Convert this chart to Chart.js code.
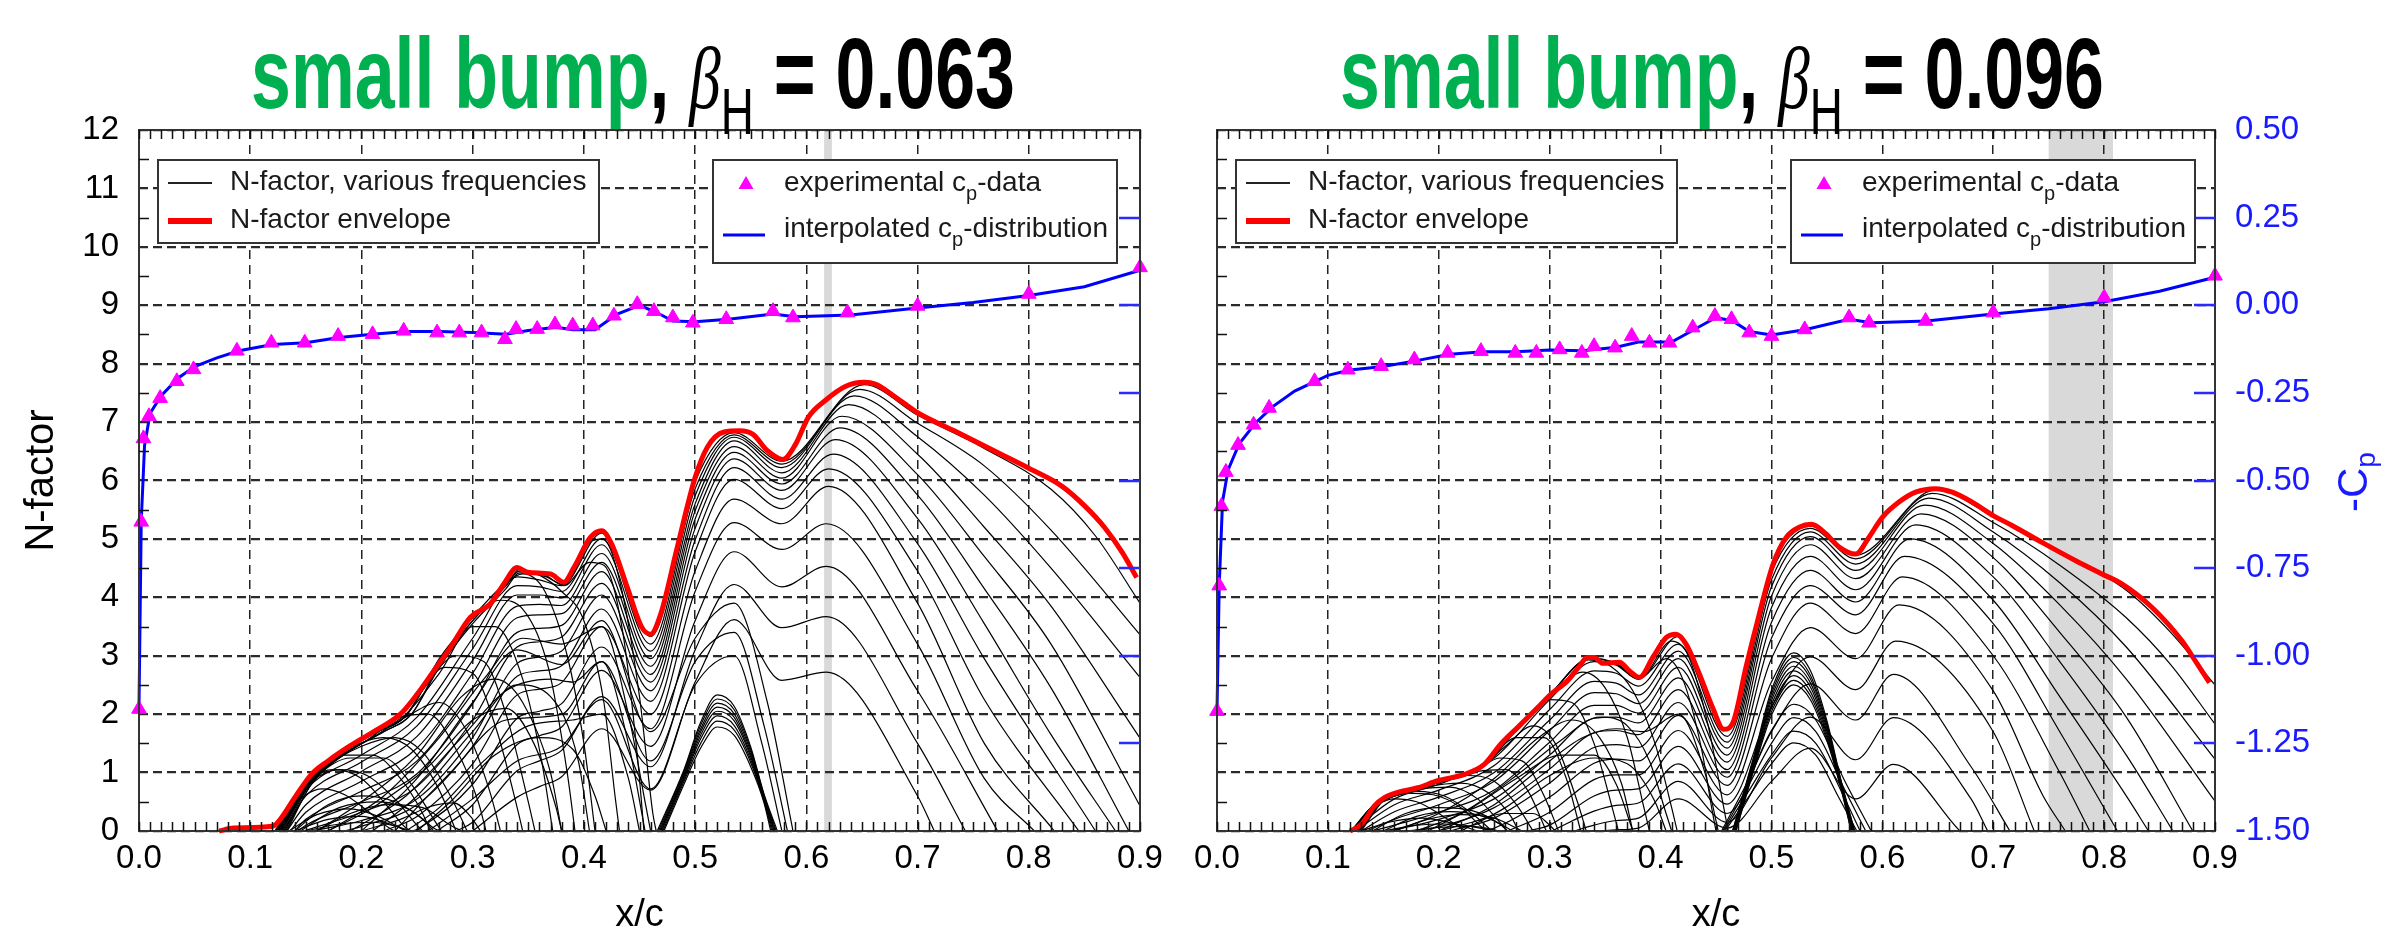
<!DOCTYPE html>
<html>
<head>
<meta charset="utf-8">
<script src="https://cdn.jsdelivr.net/npm/chart.js@4.4.1/dist/chart.umd.min.js"></script>
<style>
  html, body { margin: 0; padding: 0; background: #fff; }
  #wrap { position: relative; width: 2390px; height: 928px; overflow: hidden; }
  canvas { position: absolute; top: 0; }
</style>
</head>
<body>
<div id="wrap">
  <canvas id="left" width="1180" height="928" style="left:0"></canvas>
  <canvas id="right" width="1210" height="928" style="left:1180px"></canvas>
</div>
<script>
const FONT = '"Liberation Sans", Arial, Helvetica, sans-serif';

// axis ticks
const xTicks = [0, 0.1, 0.2, 0.3, 0.4, 0.5, 0.6, 0.7, 0.8, 0.9];
const nTicks = [0, 1, 2, 3, 4, 5, 6, 7, 8, 9, 10, 11, 12];
const cpTicks = [-1.5, -1.25, -1, -0.75, -0.5, -0.25, 0, 0.25, 0.5];

// texts
const titleWords = ['small bump', ', ', 'β', 'H', ' = '];
const betaValues = ['0.063', '0.096'];
const legendLabels = ['N-factor, various frequencies', 'N-factor envelope'];
const legendCp = [[['experimental c', 0], ['p', 1], ['-data', 0]], [['interpolated c', 0], ['p', 1], ['-distribution', 0]]];
const axisTitles = ['x/c', 'N-factor', '-C', 'p'];

// shaded bands (x/c)
const bandLeft = [0.616, 0.623];
const bandRight = [0.75, 0.808];

// ---------- left panel, beta_H = 0.063 ----------
const leftCpExp = [[0.0,-1.152],[0.002,-0.618],[0.004,-0.38],[0.009,-0.317],[0.019,-0.265],[0.034,-0.217],[0.049,-0.183],[0.088,-0.13],[0.119,-0.107],[0.149,-0.107],[0.179,-0.088],[0.21,-0.083],[0.238,-0.073],[0.268,-0.078],[0.288,-0.078],[0.308,-0.078],[0.329,-0.097],[0.339,-0.068],[0.358,-0.068],[0.374,-0.055],[0.39,-0.058],[0.408,-0.058],[0.427,-0.03],[0.448,0.003],[0.463,-0.017],[0.48,-0.035],[0.498,-0.05],[0.528,-0.04],[0.57,-0.017],[0.588,-0.035],[0.637,-0.021],[0.7,-0.002],[0.8,0.032],[0.9,0.108]];
const leftCpLine = [[0,-1.15],[0.002,-0.617],[0.005,-0.4],[0.01,-0.308],[0.02,-0.258],[0.035,-0.208],[0.05,-0.175],[0.07,-0.15],[0.09,-0.13],[0.12,-0.112],[0.15,-0.107],[0.18,-0.092],[0.21,-0.083],[0.24,-0.075],[0.27,-0.075],[0.3,-0.078],[0.33,-0.083],[0.35,-0.072],[0.375,-0.063],[0.39,-0.07],[0.41,-0.07],[0.43,-0.025],[0.45,0.0],[0.465,-0.02],[0.48,-0.045],[0.5,-0.047],[0.53,-0.04],[0.57,-0.025],[0.59,-0.033],[0.64,-0.028],[0.7,-0.008],[0.75,0.008],[0.8,0.028],[0.85,0.053],[0.9,0.1]];
const leftEnvelope = [[0.072,0],[0.085,0.05],[0.12,0.08],[0.127,0.2],[0.14,0.57],[0.155,0.97],[0.17,1.2],[0.19,1.46],[0.21,1.69],[0.235,2.0],[0.25,2.34],[0.265,2.74],[0.28,3.14],[0.298,3.66],[0.316,3.89],[0.328,4.23],[0.34,4.51],[0.349,4.43],[0.37,4.4],[0.382,4.26],[0.391,4.51],[0.406,5.03],[0.416,5.14],[0.425,4.91],[0.439,4.17],[0.452,3.49],[0.46,3.37],[0.469,3.71],[0.484,4.86],[0.5,6.05],[0.511,6.57],[0.526,6.83],[0.54,6.85],[0.552,6.79],[0.565,6.51],[0.579,6.36],[0.59,6.61],[0.602,7.09],[0.617,7.37],[0.635,7.61],[0.652,7.68],[0.662,7.65],[0.68,7.43],[0.7,7.16],[0.733,6.85],[0.775,6.45],[0.8,6.21],[0.83,5.9],[0.85,5.57],[0.868,5.2],[0.884,4.77],[0.897,4.34]];
const leftCurves = [
  [[0.128,0],[0.15,0.7],[0.2,1.3],[0.25,1.95],[0.3,3.3],[0.34,4.35],[0.36,4.3],[0.38,4.2],[0.416,5.1],[0.46,3.33],[0.5,5.98],[0.535,6.82],[0.578,6.33],[0.652,7.64],[0.7,7.12],[0.76,6.55],[0.82,5.85],[0.86,5.05],[0.9,3.9]],
  [[0.13,0],[0.15,0.6],[0.2,1.18],[0.25,1.8],[0.3,3.12],[0.34,4.2],[0.36,4.18],[0.38,4.1],[0.416,5.0],[0.46,3.2],[0.5,5.86],[0.535,6.78],[0.578,6.28],[0.648,7.56],[0.7,6.98],[0.76,6.25],[0.82,5.15],[0.9,3.36]],
  [[0.133,0],[0.15,0.45],[0.2,1.02],[0.25,1.62],[0.3,2.92],[0.34,4.04],[0.36,4.04],[0.38,3.99],[0.416,4.9],[0.46,3.08],[0.5,5.74],[0.535,6.74],[0.578,6.22],[0.643,7.45],[0.7,6.75],[0.76,5.75],[0.82,4.5],[0.9,2.63]],
  [[0.136,0],[0.15,0.32],[0.2,0.85],[0.25,1.42],[0.3,2.7],[0.34,3.85],[0.36,3.88],[0.38,3.86],[0.416,4.75],[0.46,2.95],[0.5,5.6],[0.535,6.68],[0.578,6.13],[0.638,7.3],[0.7,6.45],[0.76,5.2],[0.82,3.85],[0.9,1.59]],
  [[0.14,0],[0.15,0.2],[0.2,0.68],[0.25,1.2],[0.3,2.45],[0.34,3.65],[0.36,3.7],[0.38,3.72],[0.416,4.6],[0.46,2.82],[0.5,5.48],[0.535,6.58],[0.578,6.04],[0.632,7.1],[0.7,6.1],[0.76,4.7],[0.82,3.2],[0.9,0.43]],
  [[0.143,0],[0.15,0.1],[0.2,0.5],[0.25,0.98],[0.3,2.18],[0.34,3.4],[0.36,3.47],[0.38,3.52],[0.416,4.44],[0.46,2.68],[0.5,5.34],[0.535,6.48],[0.578,5.94],[0.63,6.9],[0.7,5.75],[0.76,4.15],[0.82,2.45],[0.89,0]],
  [[0.148,0],[0.2,0.32],[0.25,0.76],[0.3,1.9],[0.34,3.15],[0.36,3.24],[0.38,3.32],[0.416,4.24],[0.46,2.55],[0.5,5.18],[0.535,6.37],[0.578,5.83],[0.626,6.7],[0.7,5.35],[0.76,3.55],[0.82,1.65],[0.878,0]],
  [[0.155,0],[0.2,0.18],[0.25,0.55],[0.3,1.6],[0.34,2.87],[0.36,2.98],[0.38,3.08],[0.416,4.04],[0.46,2.4],[0.5,4.98],[0.535,6.22],[0.578,5.68],[0.624,6.45],[0.7,4.92],[0.76,2.95],[0.86,0]],
  [[0.185,0],[0.2,0.08],[0.25,0.45],[0.3,1.45],[0.34,2.65],[0.36,2.74],[0.38,2.83],[0.416,3.8],[0.46,2.22],[0.5,4.78],[0.535,6.02],[0.578,5.52],[0.62,6.2],[0.7,4.45],[0.76,2.25],[0.845,0]],
  [[0.22,0],[0.25,0.25],[0.3,1.15],[0.34,2.33],[0.36,2.43],[0.38,2.54],[0.416,3.5],[0.46,2.0],[0.5,4.45],[0.535,5.68],[0.578,5.26],[0.62,5.9],[0.7,3.9],[0.76,1.5],[0.823,0]],
  [[0.245,0],[0.25,0.03],[0.3,0.8],[0.34,1.93],[0.36,2.05],[0.38,2.18],[0.416,3.15],[0.46,1.75],[0.5,4.1],[0.535,5.28],[0.578,4.82],[0.618,5.26],[0.7,3.2],[0.76,0.9],[0.805,0]],
  [[0.268,0],[0.3,0.45],[0.34,1.48],[0.36,1.63],[0.38,1.78],[0.416,2.75],[0.46,1.45],[0.5,3.6],[0.535,4.78],[0.578,4.18],[0.618,4.53],[0.7,2.4],[0.772,0]],
  [[0.285,0],[0.3,0.15],[0.34,1.03],[0.36,1.2],[0.38,1.38],[0.416,2.3],[0.46,1.1],[0.5,3.1],[0.535,4.22],[0.578,3.48],[0.618,3.67],[0.7,1.5],[0.743,0]],
  [[0.3,0],[0.34,0.58],[0.36,0.76],[0.38,0.93],[0.416,1.75],[0.46,0.7],[0.5,2.55],[0.535,3.62],[0.578,2.58],[0.618,2.72],[0.7,0.6],[0.715,0]],
  [[0.122,0],[0.135,0.35],[0.15,0.62],[0.165,0.72],[0.185,0.62],[0.205,0.35],[0.225,0.05],[0.23,0]],
  [[0.123,0],[0.137,0.45],[0.155,0.9],[0.175,1.05],[0.2,0.9],[0.22,0.5],[0.24,0.05],[0.245,0]],
  [[0.124,0],[0.138,0.5],[0.155,0.85],[0.18,1.05],[0.205,0.95],[0.23,0.55],[0.25,0.1],[0.255,0]],
  [[0.124,0],[0.14,0.55],[0.16,1.0],[0.185,1.3],[0.21,1.3],[0.235,0.9],[0.255,0.3],[0.262,0]],
  [[0.125,0],[0.14,0.55],[0.16,0.95],[0.19,1.25],[0.22,1.25],[0.245,0.8],[0.265,0.2],[0.272,0]],
  [[0.125,0],[0.14,0.57],[0.16,1.05],[0.19,1.42],[0.22,1.6],[0.245,1.4],[0.27,0.7],[0.285,0]],
  [[0.126,0],[0.142,0.58],[0.165,1.05],[0.2,1.45],[0.23,1.6],[0.255,1.35],[0.28,0.6],[0.295,0]],
  [[0.126,0],[0.142,0.6],[0.165,1.1],[0.2,1.55],[0.235,1.95],[0.26,2.0],[0.285,1.4],[0.305,0.5],[0.312,0]],
  [[0.127,0],[0.145,0.62],[0.17,1.12],[0.21,1.6],[0.24,1.95],[0.27,2.2],[0.295,1.7],[0.315,0.7],[0.325,0]],
  [[0.127,0],[0.145,0.65],[0.17,1.15],[0.21,1.62],[0.245,2.2],[0.275,2.8],[0.3,2.7],[0.322,1.7],[0.34,0.4],[0.345,0]],
  [[0.128,0],[0.147,0.66],[0.175,1.2],[0.21,1.62],[0.25,2.3],[0.285,3.0],[0.31,2.9],[0.33,2.0],[0.35,0.5],[0.356,0]],
  [[0.135,0],[0.16,0.28],[0.19,0.38],[0.215,0.25],[0.235,0.05],[0.24,0]],
  [[0.14,0],[0.17,0.2],[0.2,0.25],[0.225,0.12],[0.242,0]],
  [[0.14,0],[0.17,0.45],[0.2,0.6],[0.23,0.5],[0.255,0.2],[0.265,0]],
  [[0.145,0],[0.18,0.4],[0.215,0.5],[0.245,0.35],[0.265,0.05],[0.27,0]],
  [[0.16,0],[0.19,0.3],[0.225,0.45],[0.255,0.4],[0.28,0.1],[0.29,0]],
  [[0.2,0],[0.235,0.2],[0.262,0.42],[0.283,0.48],[0.298,0.25],[0.307,0]],
  [[0.15,0],[0.18,0.12],[0.21,0.15],[0.235,0.06],[0.245,0]],
  [[0.128,0],[0.145,0.66],[0.17,1.17],[0.21,1.65],[0.24,2.0],[0.27,2.7],[0.3,3.5],[0.32,3.5],[0.345,2.6],[0.362,1.2],[0.372,0]],
  [[0.129,0],[0.148,0.7],[0.175,1.22],[0.21,1.66],[0.24,1.98],[0.27,2.9],[0.3,3.65],[0.325,3.95],[0.345,3.8],[0.368,2.8],[0.385,1.0],[0.392,0]],
  [[0.13,0],[0.15,0.72],[0.18,1.3],[0.21,1.67],[0.24,1.98],[0.27,2.95],[0.3,3.66],[0.33,4.25],[0.345,4.4],[0.365,4.1],[0.385,3.0],[0.4,1.5],[0.41,0]],
  [[0.131,0],[0.152,0.75],[0.18,1.3],[0.21,1.66],[0.24,1.97],[0.27,2.9],[0.3,3.6],[0.33,4.2],[0.342,4.48],[0.36,4.38],[0.38,4.1],[0.4,3.6],[0.418,2.2],[0.428,0.6],[0.432,0]],
  [[0.132,0],[0.155,0.8],[0.19,1.38],[0.22,1.7],[0.245,2.0],[0.27,2.85],[0.3,3.6],[0.33,4.2],[0.342,4.45],[0.365,4.38],[0.382,4.2],[0.405,4.6],[0.418,4.55],[0.435,3.4],[0.448,1.3],[0.454,0]],
  [[0.133,0],[0.155,0.8],[0.19,1.38],[0.22,1.7],[0.245,2.0],[0.27,2.8],[0.3,3.55],[0.33,4.15],[0.342,4.42],[0.365,4.36],[0.382,4.22],[0.406,4.95],[0.417,5.0],[0.432,4.3],[0.45,2.3],[0.462,0.3],[0.465,0]],
  [[0.17,0],[0.22,0.6],[0.27,1.6],[0.31,2.6],[0.345,3.3],[0.38,3.2],[0.416,3.5],[0.44,2.0],[0.455,0.5],[0.46,0]],
  [[0.19,0],[0.24,0.6],[0.29,1.6],[0.33,2.4],[0.37,2.6],[0.39,2.55],[0.416,2.9],[0.44,1.5],[0.455,0]],
  [[0.24,0],[0.27,0.4],[0.31,1.2],[0.35,1.8],[0.39,1.9],[0.416,2.0],[0.44,0.9],[0.45,0]],
  [[0.16,0],[0.2,0.5],[0.25,1.3],[0.29,2.3],[0.32,2.6],[0.345,2.2],[0.37,1.0],[0.38,0]],
  [[0.17,0],[0.21,0.4],[0.26,1.1],[0.3,1.9],[0.33,2.1],[0.355,1.5],[0.375,0.4],[0.38,0]],
  [[0.21,0],[0.25,0.6],[0.3,1.7],[0.34,2.5],[0.37,2.3],[0.395,1.2],[0.405,0]],
  [[0.25,0],[0.28,0.5],[0.32,1.3],[0.36,1.6],[0.39,1.4],[0.41,0.6],[0.42,0]],
  [[0.2,0],[0.25,0.9],[0.3,2.2],[0.34,3.1],[0.38,2.85],[0.416,3.6],[0.46,1.7],[0.5,3.3],[0.535,3.9],[0.565,2.2],[0.588,0]],
  [[0.23,0],[0.28,1.0],[0.33,1.9],[0.38,2.0],[0.416,2.9],[0.46,1.2],[0.5,2.9],[0.535,3.4],[0.562,1.8],[0.583,0]],
  [[0.26,0],[0.3,0.55],[0.34,1.2],[0.38,1.45],[0.416,2.25],[0.46,0.72],[0.5,2.5],[0.535,3.0],[0.56,1.5],[0.578,0]],
  [[0.466,0],[0.49,1.05],[0.505,1.86],[0.52,2.33],[0.535,2.14],[0.55,1.44],[0.562,0.63],[0.574,0]],
  [[0.467,0],[0.49,1.02],[0.505,1.81],[0.52,2.26],[0.535,2.08],[0.55,1.4],[0.562,0.61],[0.573,0]],
  [[0.468,0],[0.49,0.99],[0.505,1.75],[0.52,2.19],[0.535,2.01],[0.55,1.36],[0.562,0.59],[0.572,0]],
  [[0.469,0],[0.49,0.95],[0.505,1.7],[0.52,2.12],[0.535,1.95],[0.55,1.31],[0.562,0.57],[0.572,0]],
  [[0.469,0],[0.49,0.92],[0.505,1.64],[0.52,2.05],[0.535,1.89],[0.55,1.27],[0.562,0.55],[0.571,0]],
  [[0.47,0],[0.49,0.89],[0.505,1.58],[0.52,1.97],[0.535,1.81],[0.55,1.22],[0.562,0.53],[0.57,0]],
  [[0.471,0],[0.49,0.85],[0.505,1.5],[0.52,1.88],[0.535,1.73],[0.55,1.17],[0.562,0.51],[0.569,0]],
  [[0.472,0],[0.49,0.8],[0.505,1.42],[0.52,1.78],[0.535,1.64],[0.55,1.1],[0.562,0.48],[0.568,0]]
];

// ---------- right panel, beta_H = 0.096 ----------
const rightCpExp = [[0.0,-1.158],[0.002,-0.8],[0.004,-0.573],[0.008,-0.476],[0.019,-0.399],[0.033,-0.341],[0.047,-0.293],[0.088,-0.217],[0.118,-0.184],[0.148,-0.174],[0.178,-0.155],[0.208,-0.136],[0.238,-0.131],[0.269,-0.136],[0.288,-0.136],[0.309,-0.126],[0.329,-0.136],[0.34,-0.117],[0.359,-0.121],[0.374,-0.088],[0.39,-0.107],[0.408,-0.107],[0.429,-0.064],[0.449,-0.031],[0.464,-0.04],[0.48,-0.078],[0.5,-0.088],[0.53,-0.069],[0.57,-0.035],[0.588,-0.05],[0.639,-0.045],[0.7,-0.021],[0.8,0.022],[0.9,0.084]];
const rightCpLine = [[0,-1.16],[0.002,-0.8],[0.005,-0.56],[0.01,-0.47],[0.02,-0.395],[0.035,-0.335],[0.05,-0.29],[0.07,-0.245],[0.09,-0.215],[0.1,-0.2],[0.12,-0.185],[0.15,-0.175],[0.18,-0.158],[0.21,-0.14],[0.24,-0.133],[0.27,-0.133],[0.3,-0.128],[0.33,-0.13],[0.36,-0.12],[0.38,-0.105],[0.41,-0.105],[0.43,-0.07],[0.45,-0.035],[0.465,-0.045],[0.48,-0.075],[0.5,-0.085],[0.53,-0.07],[0.57,-0.04],[0.59,-0.05],[0.64,-0.045],[0.7,-0.025],[0.75,-0.01],[0.8,0.01],[0.85,0.04],[0.9,0.08]];
const rightEnvelope = [[0.12,0],[0.13,0.11],[0.142,0.43],[0.151,0.57],[0.163,0.66],[0.181,0.74],[0.199,0.86],[0.223,0.97],[0.241,1.14],[0.256,1.49],[0.271,1.77],[0.289,2.11],[0.301,2.34],[0.316,2.57],[0.326,2.8],[0.334,2.97],[0.34,2.97],[0.348,2.87],[0.363,2.89],[0.372,2.74],[0.381,2.63],[0.393,2.97],[0.405,3.31],[0.414,3.37],[0.423,3.2],[0.435,2.69],[0.447,2.11],[0.457,1.74],[0.466,1.89],[0.477,2.8],[0.489,3.71],[0.5015,4.57],[0.5135,5.03],[0.525,5.2],[0.536,5.25],[0.549,5.09],[0.561,4.86],[0.576,4.74],[0.588,5.03],[0.6,5.37],[0.615,5.63],[0.63,5.8],[0.648,5.86],[0.663,5.8],[0.681,5.63],[0.7,5.4],[0.717,5.23],[0.744,4.94],[0.774,4.63],[0.798,4.4],[0.816,4.23],[0.843,3.83],[0.87,3.26],[0.884,2.86],[0.895,2.54]];
const rightCurves = [
  [[0.122,0],[0.16,0.55],[0.2,0.8],[0.25,1.25],[0.3,2.25],[0.34,2.9],[0.36,2.84],[0.38,2.6],[0.416,3.33],[0.46,1.72],[0.5,4.52],[0.535,5.22],[0.576,4.72],[0.648,5.84],[0.7,5.38],[0.76,4.78],[0.82,4.12],[0.86,3.4],[0.9,2.5]],
  [[0.125,0],[0.16,0.45],[0.2,0.7],[0.25,1.12],[0.3,2.08],[0.34,2.74],[0.36,2.7],[0.38,2.48],[0.416,3.2],[0.46,1.62],[0.5,4.42],[0.535,5.18],[0.576,4.66],[0.645,5.78],[0.7,5.28],[0.76,4.55],[0.82,3.65],[0.86,2.85],[0.9,1.83]],
  [[0.13,0],[0.16,0.33],[0.2,0.58],[0.25,1.0],[0.3,1.9],[0.34,2.56],[0.36,2.53],[0.38,2.33],[0.416,3.08],[0.46,1.52],[0.5,4.3],[0.535,5.12],[0.576,4.57],[0.642,5.7],[0.7,5.12],[0.76,4.25],[0.82,3.15],[0.9,1.23]],
  [[0.135,0],[0.16,0.2],[0.2,0.45],[0.25,0.85],[0.3,1.72],[0.34,2.37],[0.36,2.35],[0.38,2.18],[0.416,2.95],[0.46,1.42],[0.5,4.18],[0.535,5.04],[0.576,4.46],[0.638,5.58],[0.7,4.92],[0.76,3.87],[0.82,2.6],[0.9,0.51]],
  [[0.14,0],[0.16,0.1],[0.2,0.32],[0.25,0.7],[0.3,1.52],[0.34,2.15],[0.36,2.15],[0.38,2.02],[0.416,2.8],[0.46,1.3],[0.5,4.02],[0.535,4.9],[0.576,4.32],[0.635,5.43],[0.7,4.68],[0.76,3.4],[0.82,1.95],[0.88,0]],
  [[0.155,0],[0.16,0.02],[0.2,0.2],[0.25,0.55],[0.3,1.3],[0.34,1.93],[0.36,1.95],[0.38,1.85],[0.416,2.62],[0.46,1.18],[0.5,3.82],[0.535,4.7],[0.576,4.13],[0.63,5.24],[0.7,4.35],[0.76,2.9],[0.82,1.3],[0.862,0]],
  [[0.175,0],[0.2,0.07],[0.25,0.4],[0.3,1.06],[0.34,1.68],[0.36,1.72],[0.38,1.65],[0.416,2.42],[0.46,1.05],[0.5,3.57],[0.535,4.46],[0.576,3.92],[0.625,5.0],[0.7,3.95],[0.76,2.3],[0.82,0.6],[0.84,0]],
  [[0.21,0],[0.25,0.22],[0.3,0.82],[0.34,1.43],[0.36,1.48],[0.38,1.43],[0.416,2.2],[0.46,0.92],[0.5,3.3],[0.535,4.2],[0.576,3.7],[0.62,4.7],[0.7,3.55],[0.76,1.7],[0.812,0]],
  [[0.235,0],[0.25,0.05],[0.3,0.58],[0.34,1.16],[0.36,1.23],[0.38,1.2],[0.416,1.98],[0.46,0.78],[0.5,2.95],[0.535,3.9],[0.576,3.38],[0.618,4.35],[0.7,3.0],[0.76,1.0],[0.787,0]],
  [[0.262,0],[0.3,0.32],[0.34,0.88],[0.36,0.96],[0.38,0.96],[0.416,1.72],[0.46,0.62],[0.5,2.55],[0.535,3.48],[0.576,2.95],[0.615,3.87],[0.7,2.4],[0.745,0.6],[0.765,0]],
  [[0.28,0],[0.3,0.1],[0.34,0.6],[0.36,0.7],[0.38,0.72],[0.416,1.45],[0.46,0.46],[0.5,2.12],[0.535,2.98],[0.576,2.42],[0.612,3.25],[0.7,1.7],[0.737,0]],
  [[0.302,0],[0.34,0.34],[0.36,0.44],[0.38,0.48],[0.416,1.15],[0.46,0.3],[0.5,1.72],[0.535,2.52],[0.576,1.9],[0.61,2.68],[0.68,1.1],[0.715,0]],
  [[0.322,0],[0.34,0.1],[0.36,0.18],[0.38,0.22],[0.416,0.85],[0.46,0.15],[0.5,1.25],[0.535,1.95],[0.576,1.22],[0.61,1.94],[0.68,0.55],[0.695,0]],
  [[0.345,0],[0.36,0.02],[0.38,0.05],[0.416,0.55],[0.46,0.05],[0.5,0.85],[0.535,1.42],[0.576,0.55],[0.61,1.14],[0.67,0]],
  [[0.12,0],[0.132,0.2],[0.145,0.45],[0.16,0.55],[0.18,0.5],[0.2,0.3],[0.22,0.05],[0.225,0]],
  [[0.121,0],[0.135,0.3],[0.15,0.52],[0.17,0.65],[0.195,0.62],[0.22,0.4],[0.24,0.05],[0.245,0]],
  [[0.121,0],[0.138,0.38],[0.155,0.58],[0.18,0.68],[0.205,0.6],[0.23,0.3],[0.248,0]],
  [[0.122,0],[0.14,0.42],[0.16,0.6],[0.185,0.72],[0.21,0.75],[0.235,0.55],[0.255,0.15],[0.262,0]],
  [[0.122,0],[0.14,0.42],[0.16,0.6],[0.19,0.76],[0.22,0.82],[0.245,0.65],[0.265,0.25],[0.272,0]],
  [[0.123,0],[0.142,0.44],[0.165,0.63],[0.195,0.82],[0.225,0.95],[0.25,0.85],[0.27,0.45],[0.285,0]],
  [[0.123,0],[0.143,0.46],[0.168,0.64],[0.2,0.84],[0.235,1.02],[0.26,1.05],[0.28,0.7],[0.297,0]],
  [[0.124,0],[0.145,0.48],[0.17,0.66],[0.2,0.84],[0.23,0.98],[0.255,1.25],[0.275,1.2],[0.295,0.6],[0.308,0]],
  [[0.124,0],[0.146,0.5],[0.172,0.67],[0.2,0.85],[0.24,1.1],[0.27,1.6],[0.295,1.6],[0.315,0.9],[0.328,0]],
  [[0.125,0],[0.147,0.5],[0.175,0.68],[0.2,0.85],[0.235,1.05],[0.26,1.45],[0.285,1.8],[0.305,1.5],[0.325,0.5],[0.333,0]],
  [[0.13,0],[0.155,0.15],[0.185,0.22],[0.215,0.12],[0.235,0]],
  [[0.14,0],[0.17,0.3],[0.2,0.4],[0.23,0.35],[0.255,0.12],[0.262,0]],
  [[0.15,0],[0.18,0.1],[0.21,0.12],[0.24,0.04],[0.25,0]],
  [[0.15,0],[0.18,0.25],[0.21,0.33],[0.24,0.25],[0.262,0.05],[0.266,0]],
  [[0.16,0],[0.19,0.2],[0.22,0.28],[0.25,0.22],[0.27,0.05],[0.275,0]],
  [[0.17,0],[0.2,0.06],[0.23,0.08],[0.255,0]],
  [[0.2,0],[0.23,0.15],[0.26,0.3],[0.285,0.3],[0.3,0.1],[0.305,0]],
  [[0.126,0],[0.148,0.52],[0.18,0.72],[0.21,0.9],[0.24,1.12],[0.27,1.72],[0.3,2.25],[0.32,2.2],[0.34,1.5],[0.355,0.5],[0.362,0]],
  [[0.127,0],[0.15,0.54],[0.18,0.72],[0.21,0.9],[0.24,1.12],[0.27,1.75],[0.3,2.3],[0.33,2.72],[0.35,2.45],[0.37,1.6],[0.385,0.4],[0.39,0]],
  [[0.128,0],[0.15,0.55],[0.185,0.75],[0.215,0.92],[0.24,1.12],[0.27,1.76],[0.3,2.33],[0.335,2.93],[0.355,2.82],[0.375,2.4],[0.395,1.5],[0.41,0.4],[0.415,0]],
  [[0.129,0],[0.152,0.56],[0.185,0.75],[0.215,0.92],[0.24,1.13],[0.27,1.77],[0.3,2.33],[0.336,2.95],[0.36,2.86],[0.38,2.6],[0.405,2.95],[0.42,2.6],[0.437,1.4],[0.447,0.3],[0.45,0]],
  [[0.13,0],[0.152,0.56],[0.19,0.78],[0.22,0.95],[0.24,1.13],[0.27,1.77],[0.3,2.33],[0.337,2.96],[0.36,2.87],[0.381,2.62],[0.41,3.25],[0.425,3.0],[0.443,1.8],[0.457,0.4],[0.461,0]],
  [[0.16,0],[0.2,0.3],[0.25,0.9],[0.29,1.6],[0.32,1.9],[0.345,1.6],[0.365,0.8],[0.375,0]],
  [[0.18,0],[0.22,0.3],[0.27,0.95],[0.31,1.55],[0.345,1.95],[0.37,1.8],[0.39,1.2],[0.405,0.3],[0.41,0]],
  [[0.19,0],[0.23,0.4],[0.27,0.9],[0.31,1.3],[0.34,1.3],[0.36,0.8],[0.375,0]],
  [[0.2,0],[0.25,0.45],[0.29,1.05],[0.33,1.6],[0.36,1.75],[0.385,1.7],[0.416,2.0],[0.44,1.0],[0.452,0]],
  [[0.22,0],[0.26,0.4],[0.3,0.95],[0.34,1.25],[0.37,1.15],[0.395,0.5],[0.405,0]],
  [[0.455,0],[0.48,0.9],[0.5,1.7],[0.52,2.17],[0.54,1.9],[0.565,0.9],[0.59,0]],
  [[0.456,0],[0.48,0.8],[0.5,1.5],[0.52,1.94],[0.54,1.7],[0.565,0.75],[0.585,0]],
  [[0.457,0],[0.48,0.7],[0.5,1.3],[0.52,1.71],[0.54,1.5],[0.565,0.6],[0.58,0]],
  [[0.458,0],[0.48,0.6],[0.5,1.15],[0.52,1.51],[0.54,1.3],[0.56,0.6],[0.577,0]],
  [[0.465,0],[0.485,1.34],[0.5,2.41],[0.52,3.05],[0.535,2.75],[0.55,1.89],[0.563,0.85],[0.575,0]],
  [[0.465,0],[0.485,1.31],[0.5,2.35],[0.52,2.97],[0.535,2.67],[0.55,1.84],[0.563,0.83],[0.575,0]],
  [[0.466,0],[0.485,1.28],[0.5,2.29],[0.52,2.9],[0.535,2.61],[0.55,1.8],[0.563,0.81],[0.574,0]],
  [[0.466,0],[0.485,1.24],[0.5,2.23],[0.52,2.82],[0.535,2.54],[0.55,1.75],[0.563,0.79],[0.574,0]],
  [[0.467,0],[0.485,1.21],[0.5,2.16],[0.52,2.74],[0.535,2.47],[0.55,1.7],[0.563,0.77],[0.573,0]],
  [[0.467,0],[0.485,1.17],[0.5,2.1],[0.52,2.66],[0.535,2.39],[0.55,1.65],[0.563,0.74],[0.573,0]],
  [[0.468,0],[0.485,1.14],[0.5,2.04],[0.52,2.58],[0.535,2.32],[0.55,1.6],[0.563,0.72],[0.572,0]],
  [[0.468,0],[0.485,1.1],[0.5,1.98],[0.52,2.5],[0.535,2.25],[0.55,1.55],[0.563,0.7],[0.572,0]]
];

const pts = arr => arr.map(([x, y]) => ({x, y}));

function drawRich(ctx, x, y, parts, size) {
  for (const [t, sub] of parts) {
    ctx.font = (sub ? Math.round(size * 0.72) : size) + 'px ' + FONT;
    ctx.fillText(t, x, y + (sub ? size * 0.32 : 0));
    x += ctx.measureText(t).width;
  }
}

function drawTitle(ctx, cx, value) {
  const width = 764;
  const parts = [
    {t: titleWords[0], font: 'bold 100px ' + FONT, color: '#00b050', dy: 0},
    {t: titleWords[1], font: 'bold 100px ' + FONT, color: '#000', dy: 0},
    {t: titleWords[2], font: 'italic 88px "Liberation Serif", serif', color: '#000', dy: 0},
    {t: titleWords[3], font: '64px ' + FONT, color: '#000', dy: 26},
    {t: titleWords[4] + value, font: 'bold 100px ' + FONT, color: '#000', dy: 0}
  ];
  let w = 0;
  parts.forEach(p => { ctx.font = p.font; p.w = ctx.measureText(p.t).width; w += p.w; });
  ctx.save();
  ctx.translate(cx - width / 2, 108);
  ctx.scale(width / w, 1);
  ctx.textBaseline = 'alphabetic';
  let x = 0;
  parts.forEach(p => { ctx.font = p.font; ctx.fillStyle = p.color; ctx.fillText(p.t, x, p.dy); x += p.w; });
  ctx.restore();
}

function decor(o) {
  return {
    id: 'decor',
    beforeDraw(chart) {
      const {ctx, chartArea: a, scales: {x}} = chart;
      ctx.save();
      ctx.fillStyle = '#fff';
      ctx.fillRect(0, 0, chart.width, chart.height);
      const x0 = x.getPixelForValue(o.band[0]), x1 = x.getPixelForValue(o.band[1]);
      ctx.fillStyle = '#d9d9d9';
      ctx.fillRect(x0, a.top, x1 - x0, a.bottom - a.top);
      ctx.restore();
    },
    afterDraw(chart) {
      const {ctx, chartArea: a, scales: {x, y, cp}} = chart;
      ctx.save();
      // frame
      ctx.strokeStyle = '#333';
      ctx.lineWidth = 2;
      ctx.strokeRect(a.left, a.top, a.right - a.left, a.bottom - a.top);
      // minor ticks
      ctx.lineWidth = 1.5;
      ctx.strokeStyle = '#111';
      ctx.beginPath();
      for (let i = 0; i <= 90; i++) {
        const px = Math.round(x.getPixelForValue(i / 100)) + 0.5;
        ctx.moveTo(px, a.bottom); ctx.lineTo(px, a.bottom - 9);
        ctx.moveTo(px, a.top); ctx.lineTo(px, a.top + 9);
      }
      for (let i = 1; i < 24; i += 2) {
        const py = Math.round(y.getPixelForValue(i / 2)) + 0.5;
        ctx.moveTo(a.left, py); ctx.lineTo(a.left + 10, py);
      }
      ctx.stroke();
      // blue cp ticks on the right edge
      ctx.strokeStyle = '#2a2aff';
      ctx.lineWidth = 2.5;
      ctx.beginPath();
      cpTicks.slice(1, -1).forEach(v => {
        const py = Math.round(cp.getPixelForValue(v));
        ctx.moveTo(a.right - 21, py); ctx.lineTo(a.right, py);
      });
      ctx.stroke();

      // legends
      const b1 = a.left + 19, b2 = a.left + 574;
      ctx.fillStyle = '#fff';
      ctx.fillRect(b1, 160, 441, 83);
      ctx.fillRect(b2, 160, 404, 103);
      ctx.strokeStyle = '#333';
      ctx.lineWidth = 2;
      ctx.strokeRect(b1, 160, 441, 83);
      ctx.strokeRect(b2, 160, 404, 103);
      ctx.beginPath();
      ctx.moveTo(b1 + 10, 183); ctx.lineTo(b1 + 54, 183);
      ctx.strokeStyle = '#222'; ctx.lineWidth = 2; ctx.stroke();
      ctx.beginPath();
      ctx.moveTo(b1 + 10, 221); ctx.lineTo(b1 + 54, 221);
      ctx.strokeStyle = '#ff0000'; ctx.lineWidth = 6; ctx.stroke();
      ctx.beginPath();
      ctx.moveTo(b2 + 10, 235); ctx.lineTo(b2 + 52, 235);
      ctx.strokeStyle = '#0000ff'; ctx.lineWidth = 3; ctx.stroke();
      ctx.beginPath();
      ctx.moveTo(b2 + 33, 176); ctx.lineTo(b2 + 40.5, 189); ctx.lineTo(b2 + 25.5, 189); ctx.closePath();
      ctx.fillStyle = '#ff00ff'; ctx.fill();
      ctx.fillStyle = '#1a1a1a';
      ctx.textBaseline = 'alphabetic';
      ctx.textAlign = 'left';
      ctx.font = '28px ' + FONT;
      ctx.fillText(legendLabels[0], b1 + 72, 190);
      ctx.fillText(legendLabels[1], b1 + 72, 228);
      drawRich(ctx, b2 + 71, 191, legendCp[0], 28);
      drawRich(ctx, b2 + 71, 237, legendCp[1], 28);

      // title
      drawTitle(ctx, o.titleX, o.beta);

      // axis titles
      const midX = (a.left + a.right) / 2, midY = (a.top + a.bottom) / 2;
      ctx.fillStyle = '#000';
      ctx.textAlign = 'center';
      ctx.font = '38px ' + FONT;
      ctx.fillText(axisTitles[0], midX, 926);
      if (o.nTitle) {
        ctx.save();
        ctx.translate(42, midY);
        ctx.rotate(-Math.PI / 2);
        ctx.textBaseline = 'middle';
        ctx.font = '40px ' + FONT;
        ctx.fillText(axisTitles[1], 0, 0);
        ctx.restore();
      }
      if (o.cpTitle) {
        ctx.save();
        ctx.translate(a.right + 140, 482);
        ctx.rotate(-Math.PI / 2);
        ctx.textBaseline = 'middle';
        ctx.textAlign = 'left';
        ctx.fillStyle = '#1a1aff';
        ctx.font = '42px ' + FONT;
        const w1 = ctx.measureText(axisTitles[2]).width;
        ctx.font = '28px ' + FONT;
        const w2 = ctx.measureText(axisTitles[3]).width;
        const x0 = -(w1 + w2) / 2;
        ctx.font = '42px ' + FONT;
        ctx.fillText(axisTitles[2], x0, 0);
        ctx.font = '28px ' + FONT;
        ctx.fillText(axisTitles[3], x0 + w1, 12);
        ctx.restore();
      }
      ctx.restore();
    }
  };
}

function makeChart(id, c) {
  const datasets = [
    {data: pts(c.cpExp), yAxisID: 'cp', showLine: false, pointStyle: 'triangle', pointRadius: 8.5,
     backgroundColor: '#ff00ff', borderColor: '#ff00ff', borderWidth: 1, clip: false},
    {data: pts(c.cpLine), yAxisID: 'cp', borderColor: '#0000ff', borderWidth: 3, pointRadius: 0, tension: 0, clip: false},
    {data: pts(c.envelope), yAxisID: 'y', borderColor: '#ff0000', borderWidth: 5, pointRadius: 0,
     cubicInterpolationMode: 'monotone', clip: false}
  ];
  c.curves.forEach(cv => datasets.push({data: pts(cv), yAxisID: 'y', borderColor: '#000', borderWidth: 1.2,
    pointRadius: 0, cubicInterpolationMode: 'monotone'}));

  const tickFont = {family: 'Liberation Sans', size: 33};
  return new Chart(document.getElementById(id), {
    type: 'line',
    data: {datasets},
    options: {
      responsive: false,
      devicePixelRatio: 1,
      animation: false,
      events: [],
      layout: {padding: {top: 130, left: 0, right: 0, bottom: 0}},
      plugins: {legend: {display: false}, title: {display: false}, tooltip: {enabled: false}},
      scales: {
        x: {
          type: 'linear', min: 0, max: 0.9,
          afterBuildTicks: s => { s.ticks = xTicks.map(v => ({value: v})); },
          afterFit: s => { s.height = 97; },
          ticks: {font: tickFont, color: '#000', padding: 8, maxRotation: 0, autoSkip: false,
                  callback: v => Number(v).toFixed(1)},
          grid: {color: '#222', lineWidth: 1.5, drawTicks: false},
          border: {display: false, dash: [9, 6]}
        },
        y: {
          type: 'linear', position: 'left', min: 0, max: 12,
          afterBuildTicks: s => { s.ticks = nTicks.map(v => ({value: v})); },
          afterFit: s => { s.width = c.leftWidth; },
          ticks: {display: c.nLabels, font: tickFont, color: '#000', padding: 20, autoSkip: false},
          grid: {color: '#2a2a2a', lineWidth: 2.2, drawTicks: false},
          border: {display: false, dash: [9, 5]}
        },
        cp: {
          type: 'linear', position: 'right', min: -1.5, max: 0.5,
          afterBuildTicks: s => { s.ticks = cpTicks.map(v => ({value: v})); },
          afterFit: s => { s.width = c.rightWidth; },
          ticks: {display: c.cpLabels, font: tickFont, color: '#1a1aff', padding: 20, autoSkip: false,
                  callback: v => Number(v).toFixed(2)},
          grid: {display: false, drawTicks: false},
          border: {display: false}
        }
      }
    },
    plugins: [decor(c)]
  });
}

makeChart('left', {
  cpExp: leftCpExp, cpLine: leftCpLine, envelope: leftEnvelope, curves: leftCurves,
  band: bandLeft, leftWidth: 139, rightWidth: 40, nLabels: true, cpLabels: false,
  nTitle: true, cpTitle: false, titleX: 633, beta: betaValues[0]
});
makeChart('right', {
  cpExp: rightCpExp, cpLine: rightCpLine, envelope: rightEnvelope, curves: rightCurves,
  band: bandRight, leftWidth: 37, rightWidth: 175, nLabels: false, cpLabels: true,
  nTitle: false, cpTitle: true, titleX: 542, beta: betaValues[1]
});
</script>
</body>
</html>
